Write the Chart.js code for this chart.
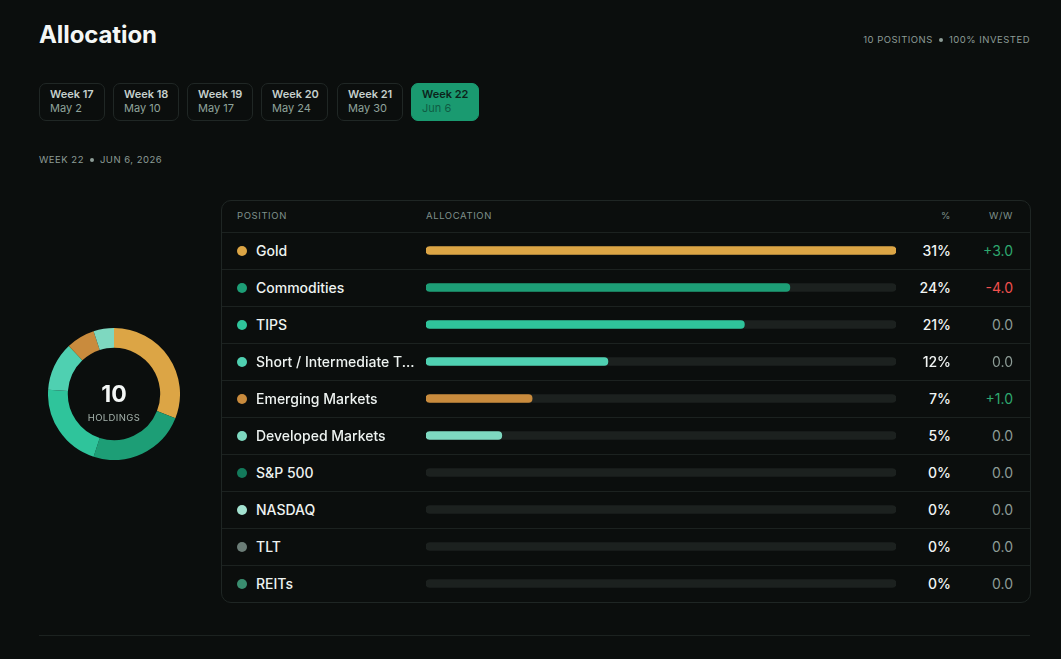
<!DOCTYPE html>
<html>
<head>
<meta charset="utf-8">
<script src="https://cdn.jsdelivr.net/npm/chart.js@4/dist/chart.umd.min.js"></script>
<style>
  html,body{margin:0;padding:0;background:#0b0e0d;width:1061px;height:659px;overflow:hidden;font-family:Inter,"Noto Sans",sans-serif;}
  .abs{position:absolute;}
  #title{left:39px;top:20px;font-size:24px;font-weight:700;color:#f4f7f6;letter-spacing:-0.1px;}
  #meta{right:31px;top:34px;font-size:9.5px;color:#8d9c96;letter-spacing:0.5px;}
  .dotsep{display:inline-block;width:4px;height:4px;border-radius:2px;background:#8d9c96;vertical-align:middle;margin:0 6px 1px 6px;}
  .wk{position:absolute;top:83px;border:1px solid #202725;border-radius:7px;box-sizing:border-box;height:38px;}
  .wk .a{position:absolute;left:10px;top:3px;font-size:11px;font-weight:600;color:#c6d1cd;}
  .wk .b{position:absolute;left:10px;top:17px;font-size:11px;color:#8fa39b;}
  .wk.on{background:#1a9a70;border-color:#1a9a70;}
  .wk.on .a{color:#0c231b;}
  .wk.on .b{color:#0f5d44;}
  #sub{left:39px;top:154px;font-size:9.5px;color:#8d9c96;letter-spacing:0.5px;}
  #card{left:221px;top:200px;width:810px;height:403px;border:1px solid #1f2624;border-radius:10px;box-sizing:border-box;}
  .hdr{position:absolute;top:210px;font-size:9.5px;color:#7f918b;letter-spacing:0.6px;}
  .line{position:absolute;left:222px;width:808px;height:1px;background:#1c2220;}
  .dot{position:absolute;left:237px;width:10px;height:10px;border-radius:5px;}
  .nm{position:absolute;left:256px;font-size:14px;font-weight:500;color:#eef3f1;line-height:18px;}
  .pc{position:absolute;right:110px;font-size:14px;font-weight:500;color:#f2f5f4;line-height:18px;}
  .ww{position:absolute;right:48px;font-size:14px;line-height:18px;}
  #bars{position:absolute;left:426px;top:232px;width:470px;height:370px;}
  #donut{position:absolute;left:48px;top:328px;width:132px;height:132px;}
  #big{left:64px;width:100px;text-align:center;top:380px;font-size:23px;font-weight:700;color:#f4f7f6;}
  #hold{left:64px;width:100px;text-align:center;top:412px;font-size:9.5px;color:#a6b4ae;letter-spacing:0.4px;}
  #bottom{left:39px;top:635px;width:991px;height:1px;background:#1c2220;}
</style>
</head>
<body>
<div id="title" class="abs">Allocation</div>
<div id="meta" class="abs">10 POSITIONS<span class="dotsep"></span>100% INVESTED</div>
<div id="weeks"></div>
<div id="sub" class="abs">WEEK 22<span class="dotsep"></span>JUN 6, 2026</div>

<div id="donut"><canvas id="dc"></canvas></div>
<div id="big" class="abs">10</div>
<div id="hold" class="abs">HOLDINGS</div>

<div id="card" class="abs"></div>
<div class="hdr" style="left:237px">POSITION</div>
<div class="hdr" style="left:426px">ALLOCATION</div>
<div class="hdr" style="right:110px">%</div>
<div class="hdr" style="right:48px">W/W</div>
<div id="rows"></div>
<div id="bars"><canvas id="bc"></canvas></div>
<div id="bottom" class="abs"></div>

<script>
const weekLabels = ["Week 17","Week 18","Week 19","Week 20","Week 21","Week 22"];
const weekDates  = ["May 2","May 10","May 17","May 24","May 30","Jun 6"];
const positions  = ["Gold","Commodities","TIPS","Short / Intermediate T...","Emerging Markets","Developed Markets","S&P 500","NASDAQ","TLT","REITs"];
const allocation = [31,24,21,12,7,5,0,0,0,0];
const weekChange = [3.0,-4.0,0.0,0.0,1.0,0.0,0.0,0.0,0.0,0.0];
const colors     = ["#dca545","#1d9e76","#2fc49b","#4fd0b1","#c98b3d","#7ed8c0","#137a5b","#a3e2d0","#6b7d77","#3a8e70"];

// week buttons
const wkLefts = [39,113,187,261,337,411];
const wkWidths = [66,66,66,67,66,68];
const wk = document.getElementById('weeks');
weekLabels.forEach((w,i)=>{
  const d=document.createElement('div');
  d.className='wk'+(i===weekLabels.length-1?' on':'');
  d.style.left=wkLefts[i]+'px'; d.style.width=wkWidths[i]+'px';
  d.innerHTML='<div class="a">'+w+'</div><div class="b">'+weekDates[i]+'</div>';
  wk.appendChild(d);
});

// rows
const rows=document.getElementById('rows');
let html='';
for(let i=0;i<positions.length;i++){
  const top=232+i*37;
  html+='<div class="line" style="top:'+top+'px"></div>';
  const cy=top+18.5;
  html+='<div class="dot" style="top:'+(cy-5)+'px;background:'+colors[i]+'"></div>';
  html+='<div class="nm" style="top:'+(cy-9)+'px">'+positions[i].replace('&','&amp;')+'</div>';
  html+='<div class="pc" style="top:'+(cy-9)+'px">'+allocation[i]+'%</div>';
  const v=weekChange[i];
  const txt=v>0?'+'+v.toFixed(1):(v<0?'-'+Math.abs(v).toFixed(1):'0.0');
  const col=v>0?'#2ea86f':(v<0?'#f0504d':'#8d9c96');
  html+='<div class="ww" style="top:'+(cy-9)+'px;color:'+col+'">'+txt+'</div>';
}
rows.innerHTML=html;

const maxAlloc=Math.max(...allocation);

new Chart(document.getElementById('bc'),{
  type:'bar',
  data:{
    labels:positions,
    datasets:[
      {data:allocation.map(v=>v>0?v:null),backgroundColor:colors,barThickness:8,borderRadius:4,borderSkipped:false,grouped:false},
      {data:positions.map(()=>maxAlloc),backgroundColor:'#1c211f',barThickness:8,borderRadius:4,borderSkipped:false,grouped:false}
    ]
  },
  options:{
    indexAxis:'y',responsive:true,maintainAspectRatio:false,animation:false,
    layout:{padding:0},
    plugins:{legend:{display:false},tooltip:{enabled:false}},
    scales:{
      x:{display:false,min:0,max:maxAlloc},
      y:{display:false}
    }
  }
});

const held=positions.map((p,i)=>i).filter(i=>allocation[i]>0);
new Chart(document.getElementById('dc'),{
  type:'doughnut',
  data:{
    labels:held.map(i=>positions[i]),
    datasets:[{data:held.map(i=>allocation[i]),backgroundColor:held.map(i=>colors[i]),borderWidth:0}]
  },
  options:{
    responsive:true,maintainAspectRatio:false,animation:false,cutout:'70%',
    layout:{padding:0},
    plugins:{legend:{display:false},tooltip:{enabled:false}}
  }
});
</script>
</body>
</html>
